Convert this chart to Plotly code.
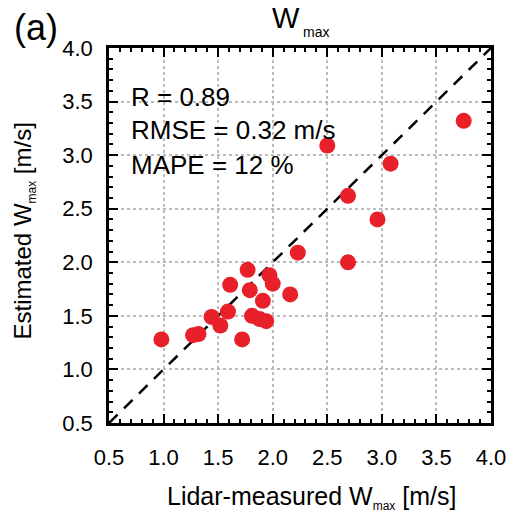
import plotly.graph_objects as go

# Data
lidar_wmax = [0.98, 1.27, 1.32, 1.44, 1.52, 1.59, 1.61, 1.72, 1.77, 1.79, 1.81, 1.88,
              1.94, 1.91, 1.97, 2.00, 2.16, 2.23, 2.69, 2.50, 2.69, 2.96, 3.08, 3.75]
est_wmax = [1.28, 1.32, 1.33, 1.49, 1.41, 1.54, 1.79, 1.28, 1.93, 1.74, 1.50, 1.47,
            1.45, 1.64, 1.88, 1.80, 1.70, 2.09, 2.00, 3.09, 2.62, 2.40, 2.92, 3.32]
one_to_one = [0.5, 4.0]
tick_vals = [0.5, 1.0, 1.5, 2.0, 2.5, 3.0, 3.5, 4.0]
tick_text = ["0.5", "1.0", "1.5", "2.0", "2.5", "3.0", "3.5", "4.0"]
stats_lines = ["R = 0.89", "RMSE = 0.32 m/s", "MAPE = 12 %"]

FONT = "Liberation Sans, Arial, Helvetica, sans-serif"
SUB = '<sub><span style="font-size:12px">max</span></sub>'

fig = go.Figure()
fig.add_trace(go.Scatter(x=one_to_one, y=one_to_one, mode="lines",
                         line=dict(color="black", width=2.5, dash="12px,9px"),
                         showlegend=False, hoverinfo="skip"))
fig.add_trace(go.Scatter(x=lidar_wmax, y=est_wmax, mode="markers",
                         marker=dict(color="#E8202A", size=16, line=dict(width=0)),
                         showlegend=False))

axis_common = dict(
    range=[0.5, 4.0], tickvals=tick_vals, ticktext=tick_text,
    ticks="inside", ticklen=9, tickwidth=2, tickcolor="black",
    minor=dict(ticks="inside", ticklen=4, tickwidth=1.5, tickcolor="black", dtick=0.1, showgrid=False),
    showline=True, linecolor="black", linewidth=2.5, mirror="allticks",
    showgrid=True, gridcolor="#bbbbbb", griddash="dot", gridwidth=1.5,
    zeroline=False, tickfont=dict(family=FONT, size=22, color="black"),
)
fig.update_xaxes(**axis_common, ticklabelstandoff=13)
fig.update_yaxes(**axis_common, ticklabelstandoff=9)

annos = []
ys = [3.543, 3.235, 2.909]
for txt, yv in zip(stats_lines, ys):
    annos.append(dict(x=0.68, y=yv, xref="x", yref="y", text=txt, showarrow=False,
                      xanchor="left", yanchor="middle",
                      font=dict(family=FONT, size=26, color="black")))
annos.append(dict(x=0.5, y=0, xref="paper", yref="paper", yshift=-74, xshift=11,
                  text="Lidar-measured W" + SUB + " [m/s]", showarrow=False,
                  xanchor="center", yanchor="middle",
                  font=dict(family=FONT, size=25, color="black")))
annos.append(dict(x=0, y=0.5, xref="paper", yref="paper", xshift=-86, yshift=4,
                  text="Estimated W" + SUB + " [m/s]", showarrow=False, textangle=-90,
                  xanchor="center", yanchor="middle",
                  font=dict(family=FONT, size=24, color="black")))
# title: big W with small "max" subscript
annos.append(dict(x=0.505, y=1, xref="paper", yref="paper", yshift=30,
                  text="W", showarrow=False,
                  xanchor="right", yanchor="middle",
                  font=dict(family=FONT, size=29, color="black")))
annos.append(dict(x=0.503, y=1, xref="paper", yref="paper", yshift=16,
                  text="max", showarrow=False,
                  xanchor="left", yanchor="middle",
                  font=dict(family=FONT, size=14, color="black")))
annos.append(dict(x=-0.255, y=1, xref="paper", yref="paper", yshift=21,
                  text="(a)", showarrow=False,
                  xanchor="left", yanchor="middle",
                  font=dict(family=FONT, size=36, color="black")))

fig.update_layout(
    width=513, height=512,
    margin=dict(l=109, r=22, t=48, b=89, autoexpand=False),
    paper_bgcolor="white", plot_bgcolor="white",
    annotations=annos,
)
fig.write_html("out.html")
